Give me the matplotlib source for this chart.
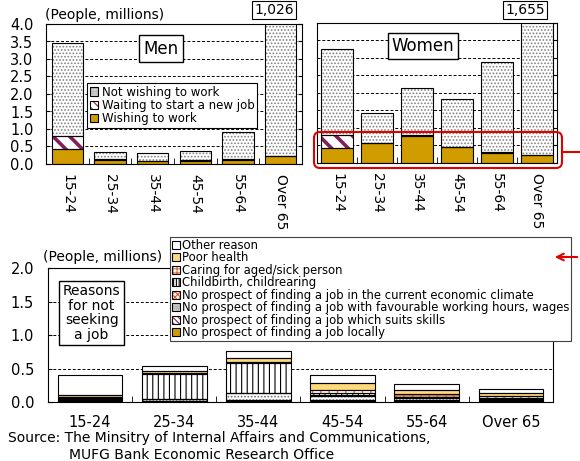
#%% IMPORTS ~~~~~~~~~~~~~~~~~~~~~~~~~~~~~~~~~~~~~~~~~~~~
import numpy as np
import matplotlib
matplotlib.use('Agg')
import matplotlib.pyplot as plt
from matplotlib.patches import Patch, FancyBboxPatch, FancyArrowPatch
from matplotlib.lines import Line2D
from matplotlib.transforms import IdentityTransform

#%% DATA ~~~~~~~~~~~~~~~~~~~~~~~~~~~~~~~~~~~~~~~~~~~~
age_groups = ['15-24', '25-34', '35-44', '45-54', '55-64', 'Over 65']

# top panels (people, millions)
men_wishing = [0.43, 0.11, 0.08, 0.09, 0.12, 0.23]
men_waiting = [0.38, 0.02, 0.01, 0.01, 0.01, 0.0]
men_not_wishing = [2.66, 0.20, 0.21, 0.28, 0.78, 10.03]
men_over65_label = '1,026'

women_wishing = [0.42, 0.56, 0.78, 0.45, 0.29, 0.22]
women_waiting = [0.38, 0.0, 0.02, 0.01, 0.01, 0.0]
women_not_wishing = [2.45, 0.86, 1.33, 1.38, 2.58, 16.33]
women_over65_label = '1,655'

# bottom panel: reasons for not seeking a job (people, millions)
reason_labels = [
    'No prospect of finding a job locally',
    'No prospect of finding a job which suits skills',
    'No prospect of finding a job with favourable working hours, wages',
    'No prospect of finding a job in the current economic climate',
    'Childbirth, childrearing',
    'Caring for aged/sick person',
    'Poor health',
    'Other reason',
]
r_locally = [0.02, 0.01, 0.02, 0.02, 0.02, 0.02]
r_skills = [0.01, 0.01, 0.01, 0.01, 0.01, 0.01]
r_hours = [0.02, 0.02, 0.10, 0.06, 0.03, 0.02]
r_climate = [0.01, 0.01, 0.01, 0.02, 0.01, 0.01]
r_childbirth = [0.02, 0.37, 0.44, 0.03, 0.01, 0.0]
r_caring = [0.0, 0.01, 0.01, 0.04, 0.04, 0.03]
r_health = [0.02, 0.04, 0.07, 0.11, 0.06, 0.05]
r_other = [0.30, 0.07, 0.10, 0.12, 0.09, 0.05]

#%% CONFIGURATION ~~~~~~~~~~~~~~~~~~~~~~~~~~~~~~~~~~~~~~~~~~~~
plt.rcParams['font.family'] = 'DejaVu Sans'
plt.rcParams['hatch.linewidth'] = 0.8

GOLD = '#D09C00'
MAROON = '#80205A'
W, H = 580, 461

# (face, hatch, hatch colour, hatch line width)
top_styles = [
    (GOLD, None, GOLD, 0.8),
    ('white', '\\\\', MAROON, 2.6),
    ('white', '.....', '#808080', 0.8),
]
top_names = ['Wishing to work', 'Waiting to start a new job', 'Not wishing to work']

reason_styles = [
    (GOLD, None, GOLD, 0.8),
    ('white', '\\\\\\', MAROON, 1.6),
    ('white', '.....', '#707070', 0.8),
    ('white', 'xxx', '#E05A28', 1.0),
    ('white', '|||', 'black', 0.8),
    ('white', '++', '#E06A28', 1.0),
    ('#FFD97A', None, '#FFD97A', 0.8),
    ('white', None, 'white', 0.8),
]


def fx(x):
    return x / W


def fy(y):
    return 1 - y / H


def seg(ax, x, bottom, height, width, style):
    face, hatch, hcol, hlw = style
    with plt.rc_context({'hatch.linewidth': hlw}):
        ax.bar(x, height, width, bottom=bottom, color=face, hatch=hatch,
               edgecolor=hcol, linewidth=0, zorder=2)
    ax.bar(x, height, width, bottom=bottom, fill=False,
           edgecolor='black', linewidth=0.8, zorder=3)


def handle(style):
    face, hatch, hcol, hlw = style
    if hatch is not None:
        hatch = hatch * 2
    with plt.rc_context({'hatch.linewidth': min(hlw, 1.2)}):
        p = Patch(facecolor=face, hatch=hatch, edgecolor=hcol, linewidth=0)
    return (p, Patch(fill=False, edgecolor='black', linewidth=0.8))


def setup_top(ax, show_labels):
    ax.set_xlim(-0.5, 5.5)
    ax.set_ylim(0, 4)
    for v in np.arange(0.5, 4.0, 0.5):
        ax.axhline(v, color='black', ls=(0, (3, 2)), lw=0.7, zorder=1)
    ax.set_xticks(range(len(age_groups)))
    ax.set_xticklabels(age_groups, rotation=-90, fontsize=10)
    ax.tick_params(axis='x', which='major', length=0, pad=7)
    ax.set_xticks(np.arange(0.5, 5.0, 1), minor=True)
    ax.tick_params(axis='x', which='minor', direction='in', length=4)
    ax.set_yticks(np.arange(0, 4.01, 0.5))
    ax.tick_params(axis='y', direction='in', length=3, right=True)
    if show_labels:
        ax.set_yticklabels([f'{v:.1f}' for v in np.arange(0, 4.01, 0.5)], fontsize=10.5)
        ax.tick_params(axis='y', pad=9)
    else:
        ax.set_yticklabels([])
        ax.tick_params(axis='y', left=False)


def draw_top(ax, series, width):
    x = np.arange(len(age_groups))
    bottom = np.zeros(len(age_groups))
    for vals, st in zip(series, top_styles):
        vals = np.array(vals)
        seg(ax, x, bottom, vals, width, st)
        bottom += vals


#%% FIGURE ~~~~~~~~~~~~~~~~~~~~~~~~~~~~~~~~~~~~~~~~~~~~
fig = plt.figure(figsize=(5.8, 4.61), dpi=100)

ax_m = fig.add_axes([fx(46), fy(164), (302 - 46) / W, (164 - 24) / H])
setup_top(ax_m, True)
draw_top(ax_m, [men_wishing, men_waiting, men_not_wishing], 0.73)
ax_m.text(2.2, 3.3, 'Men', fontsize=12, ha='center', va='center', zorder=5,
          bbox=dict(boxstyle='square,pad=0.25', fc='white', ec='black', lw=1))
leg = ax_m.legend([handle(s) for s in top_styles[::-1]], top_names[::-1],
                  loc='upper left', bbox_to_anchor=(0.16, 0.58), borderaxespad=0,
                  fontsize=8.5, fancybox=False, edgecolor='black', framealpha=1,
                  handlelength=0.7, handleheight=0.7, handletextpad=0.3,
                  labelspacing=0.02, borderpad=0.25)
leg.get_frame().set_linewidth(0.8)
leg.set_zorder(6)

ax_w = fig.add_axes([fx(317), fy(163), (557 - 317) / W, (163 - 23) / H])
setup_top(ax_w, False)
draw_top(ax_w, [women_wishing, women_waiting, women_not_wishing], 0.79)
ax_w.text(2.15, 3.35, 'Women', fontsize=12, ha='center', va='center', zorder=5,
          bbox=dict(boxstyle='square,pad=0.25', fc='white', ec='black', lw=1))

fig.text(fx(45), fy(15), '(People, millions)', fontsize=10, va='center')
fig.text(fx(274), fy(10), men_over65_label, fontsize=10, ha='center', va='center',
         bbox=dict(boxstyle='square,pad=0.15', fc='white', ec='black', lw=0.8))
fig.text(fx(525), fy(10), women_over65_label, fontsize=10, ha='center', va='center',
         bbox=dict(boxstyle='square,pad=0.15', fc='white', ec='black', lw=0.8))

# bottom panel
ax_b = fig.add_axes([fx(48), fy(402), (553 - 48) / W, (402 - 268) / H])
ax_b.set_xlim(-0.5, 5.5)
ax_b.set_ylim(0, 2)
for v in [0.5, 1.0, 1.5]:
    ax_b.axhline(v, color='black', ls=(0, (3, 2)), lw=0.7, zorder=1)
ax_b.set_yticks(np.arange(0, 2.01, 0.5))
ax_b.set_yticklabels([f'{v:.1f}' for v in np.arange(0, 2.01, 0.5)], fontsize=10.5)
ax_b.tick_params(axis='y', direction='in', length=3, pad=10)
ax_b.set_xticks(range(len(age_groups)))
ax_b.set_xticklabels(age_groups, fontsize=10.5)
ax_b.tick_params(axis='x', which='major', length=0, pad=9)
ax_b.set_xticks(np.arange(0.5, 5.0, 1), minor=True)
ax_b.tick_params(axis='x', which='minor', direction='in', length=4)

reasons = [r_locally, r_skills, r_hours, r_climate, r_childbirth, r_caring, r_health, r_other]
xb = np.arange(len(age_groups))
bot = np.zeros(len(age_groups))
for vals, st in zip(reasons, reason_styles):
    vals = np.array(vals)
    seg(ax_b, xb, bot, vals, 0.77, st)
    bot += vals

ax_b.text(0.0865, 0.665, 'Reasons\nfor not\nseeking\na job', transform=ax_b.transAxes,
          fontsize=10, ha='center', va='center', linespacing=1.05, zorder=5,
          bbox=dict(boxstyle='square,pad=0.25', fc='white', ec='black', lw=1))

fig.text(fx(43), fy(257), '(People, millions)', fontsize=10, va='center')

leg2 = fig.legend([handle(s) for s in reason_styles[::-1]], reason_labels[::-1],
                  loc='upper left', bbox_to_anchor=(fx(170), fy(237)),
                  fontsize=8.4, fancybox=False, edgecolor='#404040', framealpha=1,
                  handlelength=0.7, handleheight=0.7, handletextpad=0.2,
                  labelspacing=-0.04, borderpad=0.15, borderaxespad=0)
leg2.get_frame().set_linewidth(0.8)

fig.text(fx(8), fy(438), 'Source: The Minsitry of Internal Affairs and Communications,',
         fontsize=10, va='center')
fig.text(fx(69), fy(455), 'MUFG Bank Economic Research Office', fontsize=10, va='center')

# red highlight linking the women bars to the lower panel
fig.add_artist(FancyBboxPatch((314, H - 168), 562 - 314, 36,
                              boxstyle='round,pad=0,rounding_size=6',
                              transform=IdentityTransform(), fill=False,
                              edgecolor='#E00000', lw=1.5, zorder=10))
fig.add_artist(Line2D([fx(562), 1.0], [fy(152), fy(152)], transform=fig.transFigure,
                      color='#E00000', lw=1.5, zorder=10))
fig.add_artist(FancyArrowPatch((fx(580), fy(257)), (fx(552), fy(257)),
                               transform=fig.transFigure, arrowstyle='->',
                               mutation_scale=12, color='#E00000', lw=1.5, zorder=10))

fig.savefig('out.png', dpi=100)
